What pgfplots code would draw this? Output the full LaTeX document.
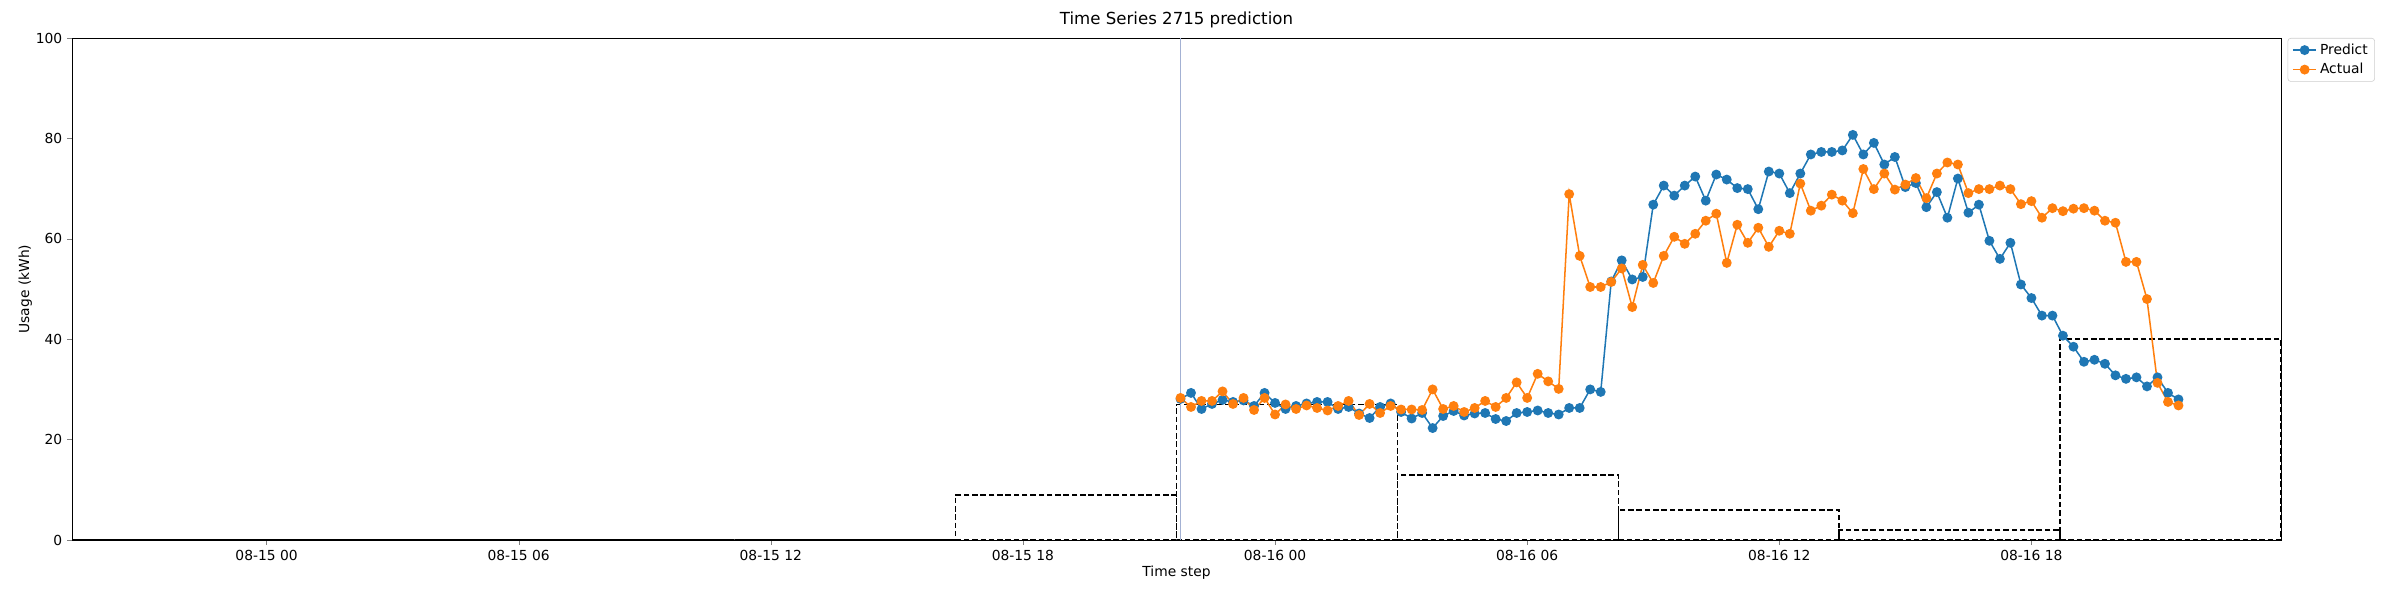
\documentclass[border=0pt]{standalone}
\usepackage{pgfplots}
\pgfplotsset{compat=1.18}
\usepackage{pgfplotstable}
\usepackage{fontspec}
\setmainfont{DejaVu Sans}
\definecolor{mblue}{HTML}{1F77B4}
\definecolor{morange}{HTML}{FF7F0E}
\definecolor{hist}{HTML}{8FA6C4}
\definecolor{vline}{HTML}{A3B1D3}
\pgfplotstableread[row sep=\\]{
y\\
31\\ 31.5\\ 26\\ 28\\ 26\\ 27\\ 28\\ 26\\ 26\\ 27\\ 25\\ 26.5\\ 25\\ 26\\ 25.5\\ 26\\ 25\\ 27.5\\ 26.5\\ 25.5\\ 24.5\\ 26.5\\ 24\\ 26\\ 22\\ 20\\ 20.5\\ 20.5\\ 19.5\\ 21.5\\ 21.5\\ 25.5\\ 24.5\\ 23\\ 25.5\\ 22.5\\ 20.5\\ 22.5\\ 21\\ 22\\ 19\\
63.5\\ 57\\ 49\\ 59\\ 65\\ 68.5\\ 70\\ 71.5\\ 72\\ 72\\ 73.5\\ 76\\ 78.5\\ 76\\ 77.5\\ 78\\ 76\\ 78.5\\ 76\\ 81.5\\ 83\\ 80.5\\ 85\\ 82\\ 77\\ 71\\ 70\\ 75\\ 72\\ 74.5\\ 77\\ 72.5\\ 73.5\\ 68.5\\ 72\\ 73\\ 71\\ 71.5\\ 73.5\\ 72.5\\
40.5\\ 38\\ 36.5\\ 34.5\\ 34\\ 32.5\\ 35\\ 32\\ 33\\ 31\\ 31.5\\ 24.5\\ 24.5\\ 28.5\\ 27.5\\ 28.3\\
}\hist
\pgfplotstableread[row sep=\\]{
y\\
28.1\\ 29.3\\ 26.1\\ 27.1\\ 27.9\\ 27.5\\ 27.8\\ 26.7\\ 29.3\\ 27.3\\ 26.1\\ 26.7\\ 27.2\\ 27.5\\ 27.5\\ 26.1\\ 26.5\\ 25.2\\ 24.3\\ 26.5\\ 27.2\\ 25.5\\ 24.2\\ 25.3\\ 22.3\\ 24.7\\ 25.7\\ 24.8\\ 25.2\\ 25.3\\ 24.1\\ 23.7\\ 25.3\\ 25.5\\ 25.8\\ 25.3\\ 25.0\\
26.3\\ 26.3\\ 30.0\\ 29.5\\ 51.5\\ 55.7\\ 51.9\\ 52.4\\ 66.8\\ 70.6\\ 68.6\\ 70.6\\ 72.4\\ 67.6\\ 72.8\\ 71.8\\ 70.1\\ 69.9\\ 65.9\\ 73.4\\ 73.0\\ 69.1\\ 73.0\\ 76.8\\ 77.3\\ 77.3\\ 77.6\\ 80.7\\
76.8\\ 79.1\\ 74.8\\ 76.3\\ 70.3\\ 71.1\\ 66.3\\ 69.3\\ 64.2\\ 72.0\\ 65.2\\ 66.8\\ 59.6\\ 56.0\\ 59.2\\ 50.9\\ 48.2\\ 44.7\\ 44.7\\ 40.7\\ 38.5\\ 35.5\\ 35.9\\ 35.1\\ 32.8\\ 32.1\\ 32.4\\ 30.6\\ 32.4\\ 29.3\\ 28.0\\
}\pred
\pgfplotstableread[row sep=\\]{
y\\
28.3\\ 26.5\\ 27.7\\ 27.7\\ 29.6\\ 27.1\\ 28.3\\ 25.9\\ 28.3\\ 25.0\\ 27.0\\ 26.1\\ 26.8\\ 26.3\\ 25.8\\ 26.7\\ 27.7\\ 24.9\\ 27.1\\ 25.3\\ 26.7\\ 26.0\\ 26.0\\ 25.9\\ 30.0\\ 26.1\\ 26.7\\ 25.5\\ 26.3\\ 27.7\\ 26.5\\ 28.3\\ 31.4\\ 28.3\\ 33.1\\ 31.6\\ 30.1\\
68.9\\ 56.6\\ 50.4\\ 50.4\\ 51.4\\ 54.1\\ 46.4\\ 54.8\\ 51.2\\ 56.6\\ 60.4\\ 59.0\\ 61.0\\ 63.6\\ 65.0\\ 55.2\\ 62.8\\ 59.2\\ 62.2\\ 58.4\\ 61.6\\ 61.0\\ 71.0\\ 65.6\\ 66.6\\ 68.8\\ 67.6\\ 65.1\\
73.9\\ 69.9\\ 73.0\\ 69.8\\ 70.8\\ 72.1\\ 68.1\\ 73.0\\ 75.2\\ 74.8\\ 69.1\\ 69.9\\ 69.9\\ 70.6\\ 69.9\\ 66.9\\ 67.5\\ 64.2\\ 66.1\\ 65.5\\ 66.0\\ 66.1\\ 65.6\\ 63.6\\ 63.2\\ 55.4\\ 55.4\\ 48.0\\ 31.3\\ 27.5\\ 26.8\\
}\act
\begin{document}
\begin{tikzpicture}
\begin{axis}[
  scale only axis, width=22.09in, height=5.02in,
  xmin=-4.63, xmax=47.94, ymin=0, ymax=100,
  xtick={0,6,...,42},
  xticklabels={08-15 00,08-15 06,08-15 12,08-15 18,08-16 00,08-16 06,08-16 12,08-16 18},
  ytick={0,20,...,100},
  tick align=outside, tick pos=left,
  major tick length=3.5pt,
  /pgf/number format/assume math mode=true,
  tick label style={font=\fontsize{10}{12}\selectfont},
  label style={font=\fontsize{10}{12}\selectfont},
  title style={font=\fontsize{12}{14}\selectfont, yshift=-2pt},
  title={Time Series 2715 prediction},
  xlabel={Time step}, ylabel={Usage (kWh)},
  xlabel style={yshift=3pt}, ylabel style={yshift=-4pt},
  legend style={at={(1.003,1)}, anchor=north west, font=\fontsize{10}{12}\selectfont, draw=black!20, rounded corners=2pt, row sep=1pt},
  legend cell align=left,
  clip=false,
]
\addplot[hist, line width=1.1pt, dash pattern=on 4pt off 2pt, forget plot] table[x expr=\coordindex/4-2.25, y=y] {\hist};
\draw[vline, line width=1.1pt] (axis cs:21.75,0) -- (axis cs:21.75,100);
\addplot[mblue, line width=1.1pt, mark=*, mark size=3pt, mark options={solid, fill=mblue, draw=none}] table[x expr=\coordindex/4+21.75, y=y] {\pred};
\addlegendentry{Predict}
\addplot[morange, line width=1.1pt, mark=*, mark size=3pt, mark options={solid, fill=morange, draw=none}] table[x expr=\coordindex/4+21.75, y=y] {\act};
\addlegendentry{Actual}
\coordinate (sw) at (rel axis cs:0,0);
\coordinate (ne) at (rel axis cs:1,1);
\end{axis}
\path (sw) ++(-0.72in,-0.60in) coordinate (a);
\path (ne) ++(1.19in,0.38in) coordinate (b);
\path (a) rectangle (b);
\end{tikzpicture}
\end{document}
